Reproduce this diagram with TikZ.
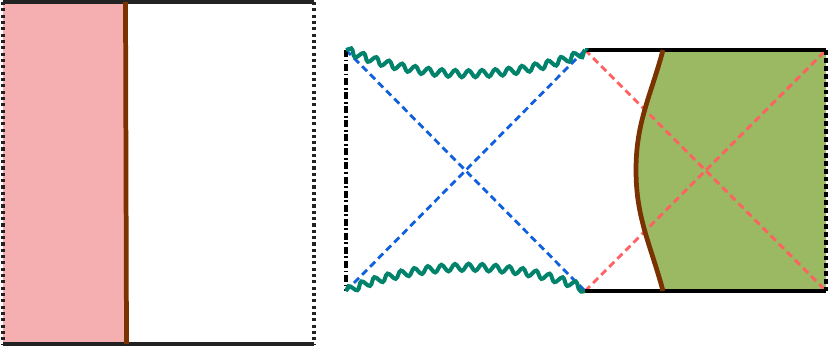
\documentclass[tikz,border=0pt]{standalone}
\usepackage{tikz}
\usetikzlibrary{decorations.pathmorphing}
\definecolor{pinkreg}{HTML}{F5AFB0}
\definecolor{wallbrown}{HTML}{7A3300}
\definecolor{greenreg}{HTML}{9BB862}
\definecolor{wavegreen}{HTML}{00826B}
\definecolor{horblue}{HTML}{1060DD}
\definecolor{horred}{HTML}{FF6060}
\definecolor{edgegray}{HTML}{222222}

\begin{document}
\begin{tikzpicture}[x=0.02cm, y=-0.02cm]
  \useasboundingbox (0,0) rectangle (830,348);
  \tikzset{
    wall/.style={wallbrown, line width=2.7pt},
    horizon/.style={line width=1.6pt, dash pattern=on 4pt off 2.5pt},
    bdry/.style={line width=2.1pt},
    sing/.style={wavegreen, line width=2.3pt, decorate,
      decoration={snake, amplitude=0.07cm, segment length=0.27cm}}
  }
  % Left panel
  \fill[pinkreg] (3,2) rectangle (126,344);
  \draw[bdry, edgegray] (3,2) -- (314,2);
  \draw[bdry, edgegray] (3,344) -- (314,344);
  \draw[bdry, edgegray, dash pattern=on 1.8pt off 1.8pt] (3,2) -- (3,344);
  \draw[bdry, edgegray, dash pattern=on 1.8pt off 1.8pt] (314,2) -- (314,344);
  \draw[wall] (125.5,2) -- (126.5,344);
  % Right panel corners
  \coordinate (tl) at (346,50); \coordinate (bl) at (346,291);
  \coordinate (tm) at (585,50); \coordinate (bm) at (585,291);
  \coordinate (tr) at (826,50); \coordinate (br) at (826,291);
  % Exterior region
  \fill[greenreg] (663,50) to[out=255,in=90] (636,170) to[out=270,in=105] (663,291)
    -- (br) -- (tr) -- cycle;
  % Horizons
  \draw[horizon, horblue] (tl) -- (bm);
  \draw[horizon, horblue] (bl) -- (tm);
  \draw[horizon, horred] (tm) -- (br);
  \draw[horizon, horred] (bm) -- (tr);
  % Boundaries
  \draw[bdry, black] (tm) -- (tr);
  \draw[bdry, black] (bm) -- (br);
  \draw[bdry, black, dash pattern=on 4pt off 1.5pt on 1pt off 1.5pt] (tl) -- (bl);
  \draw[bdry, black, dash pattern=on 2.8pt off 1.7pt] (tr) -- (br);
  % Singularities
  \draw[sing] (tl) .. controls (420,80) and (510,80) .. (tm);
  \draw[sing] (bl) .. controls (420,261) and (510,261) .. (bm);
  % Brane
  \draw[wall] (663,50) to[out=255,in=90] (636,170) to[out=270,in=105] (663,291);
\end{tikzpicture}
\end{document}
